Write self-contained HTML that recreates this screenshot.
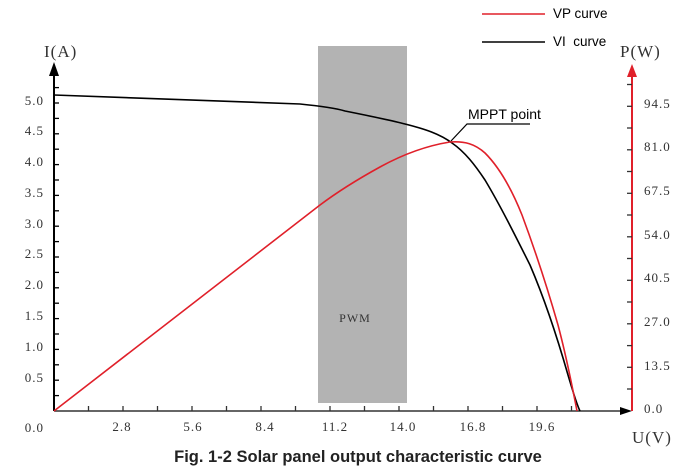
<!DOCTYPE html>
<html><head><meta charset="utf-8"><style>
body{margin:0;background:#fff;}
svg{display:block;}
.t{font-family:"Liberation Serif","Noto Serif CJK SC",serif;font-size:13px;fill:#333;letter-spacing:1px;}
.s{font-family:"Liberation Sans",sans-serif;}
</style></head><body>
<svg width="687" height="470" viewBox="0 0 687 470">
<rect x="318" y="46" width="89" height="357" fill="#b3b3b3"/>
<text x="355" y="322" class="t" text-anchor="middle" style="font-size:12px">PWM</text>
<line x1="54" y1="411" x2="54" y2="70" stroke="#000" stroke-width="2"/>
<polygon points="54,62 49,76 59,76" fill="#000"/>
<g stroke="#000" stroke-width="1.3">
<line x1="54" x2="59" y1="395.6" y2="395.6"/><line x1="54" x2="59" y1="380.2" y2="380.2"/><line x1="54" x2="59" y1="364.8" y2="364.8"/><line x1="54" x2="59" y1="349.4" y2="349.4"/><line x1="54" x2="59" y1="334" y2="334"/><line x1="54" x2="59" y1="318.6" y2="318.6"/><line x1="54" x2="59" y1="303.2" y2="303.2"/><line x1="54" x2="59" y1="287.8" y2="287.8"/><line x1="54" x2="59" y1="272.4" y2="272.4"/><line x1="54" x2="59" y1="257" y2="257"/><line x1="54" x2="59" y1="241.6" y2="241.6"/><line x1="54" x2="59" y1="226.2" y2="226.2"/><line x1="54" x2="59" y1="210.8" y2="210.8"/><line x1="54" x2="59" y1="195.4" y2="195.4"/><line x1="54" x2="59" y1="180" y2="180"/><line x1="54" x2="59" y1="164.6" y2="164.6"/><line x1="54" x2="59" y1="149.2" y2="149.2"/><line x1="54" x2="59" y1="133.8" y2="133.8"/><line x1="54" x2="59" y1="118.4" y2="118.4"/><line x1="54" x2="59" y1="103" y2="103"/><line x1="54" x2="59" y1="87.6" y2="87.6"/>
</g>
<g class="t" text-anchor="end">
<text x="44" y="105">5.0</text><text x="44" y="135">4.5</text><text x="44" y="166">4.0</text><text x="44" y="197">3.5</text><text x="44" y="228">3.0</text><text x="44" y="258">2.5</text><text x="44" y="289">2.0</text><text x="44" y="320">1.5</text><text x="44" y="351">1.0</text><text x="44" y="382">0.5</text><text x="44" y="432">0.0</text>
</g>
<text x="44" y="57" class="t" style="font-size:17px">I(A)</text>
<line x1="54" y1="411" x2="624" y2="411" stroke="#333" stroke-width="1.5"/>
<polygon points="632,411 620,407 620,415" fill="#000"/>
<g stroke="#333" stroke-width="1.3">
<line x1="88.5" x2="88.5" y1="411" y2="406"/><line x1="123" x2="123" y1="411" y2="406"/><line x1="157.5" x2="157.5" y1="411" y2="406"/><line x1="192" x2="192" y1="411" y2="406"/><line x1="226.5" x2="226.5" y1="411" y2="406"/><line x1="261" x2="261" y1="411" y2="406"/><line x1="295.5" x2="295.5" y1="411" y2="406"/><line x1="330" x2="330" y1="411" y2="406"/><line x1="364.5" x2="364.5" y1="411" y2="406"/><line x1="399" x2="399" y1="411" y2="406"/><line x1="433.5" x2="433.5" y1="411" y2="406"/><line x1="468" x2="468" y1="411" y2="406"/><line x1="502.5" x2="502.5" y1="411" y2="406"/><line x1="537" x2="537" y1="411" y2="406"/><line x1="571.5" x2="571.5" y1="411" y2="406"/>
</g>
<g class="t" text-anchor="middle">
<text x="122" y="431">2.8</text><text x="193" y="431">5.6</text><text x="265" y="431">8.4</text><text x="335" y="431">11.2</text><text x="403" y="431">14.0</text><text x="473" y="431">16.8</text><text x="542" y="431">19.6</text>
</g>
<text x="632" y="443" class="t" style="font-size:17px">U(V)</text>
<line x1="632" y1="411" x2="632" y2="75" stroke="#e0202a" stroke-width="2"/>
<polygon points="632,64 627,77 637,77" fill="#e0202a"/>
<g stroke="#333" stroke-width="1.3">
<line x1="627" x2="632" y1="389" y2="389"/><line x1="627" x2="632" y1="367.3" y2="367.3"/><line x1="627" x2="632" y1="345.6" y2="345.6"/><line x1="627" x2="632" y1="323.8" y2="323.8"/><line x1="627" x2="632" y1="302" y2="302"/><line x1="627" x2="632" y1="280.3" y2="280.3"/><line x1="627" x2="632" y1="258.5" y2="258.5"/><line x1="627" x2="632" y1="236.8" y2="236.8"/><line x1="627" x2="632" y1="215" y2="215"/><line x1="627" x2="632" y1="193.3" y2="193.3"/><line x1="627" x2="632" y1="171.5" y2="171.5"/><line x1="627" x2="632" y1="149.8" y2="149.8"/><line x1="627" x2="632" y1="128" y2="128"/><line x1="627" x2="632" y1="106.3" y2="106.3"/><line x1="627" x2="632" y1="84.5" y2="84.5"/>
</g>
<g class="t">
<text x="644" y="108">94.5</text><text x="644" y="151">81.0</text><text x="644" y="195">67.5</text><text x="644" y="239">54.0</text><text x="644" y="282">40.5</text><text x="644" y="326">27.0</text><text x="644" y="370">13.5</text><text x="644" y="413">0.0</text>
</g>
<text x="620" y="57" class="t" style="font-size:17px">P(W)</text>
<path d="M54,95 L300,104 C320,106 335,108 345,111 C370,116 390,120 405,124 C425,129 440,134 452,143 C465,152 475,165 485,180 C500,205 515,235 530,265 C545,300 558,340 568,375 C573,392 577,405 580,411" fill="none" stroke="#000" stroke-width="1.6"/>
<path d="M54,411 L320,205 C340,190 360,178 380,167 C400,156 425,146 450,142 C465,141 475,144 485,153 C500,168 512,190 522,215 C535,250 548,290 558,325 C566,355 572,385 577,411" fill="none" stroke="#e0202a" stroke-width="1.6"/>
<path d="M451,141 L467,124 L530,124" fill="none" stroke="#000" stroke-width="1.2"/>
<text x="468" y="119" class="s" style="font-size:14px;fill:#000">MPPT point</text>
<line x1="482" y1="14" x2="545" y2="14" stroke="#e0202a" stroke-width="1.6"/>
<text x="553" y="18" class="s" style="font-size:13.5px;fill:#000">VP curve</text>
<line x1="482" y1="42" x2="545" y2="42" stroke="#000" stroke-width="1.6"/>
<text x="553" y="46" class="s" style="font-size:13.5px;fill:#000">VI&#160; curve</text>
<text x="358" y="462" class="s" text-anchor="middle" style="font-size:16.5px;font-weight:bold;fill:#222">Fig. 1-2 Solar panel output characteristic curve</text>
</svg>
</body></html>
